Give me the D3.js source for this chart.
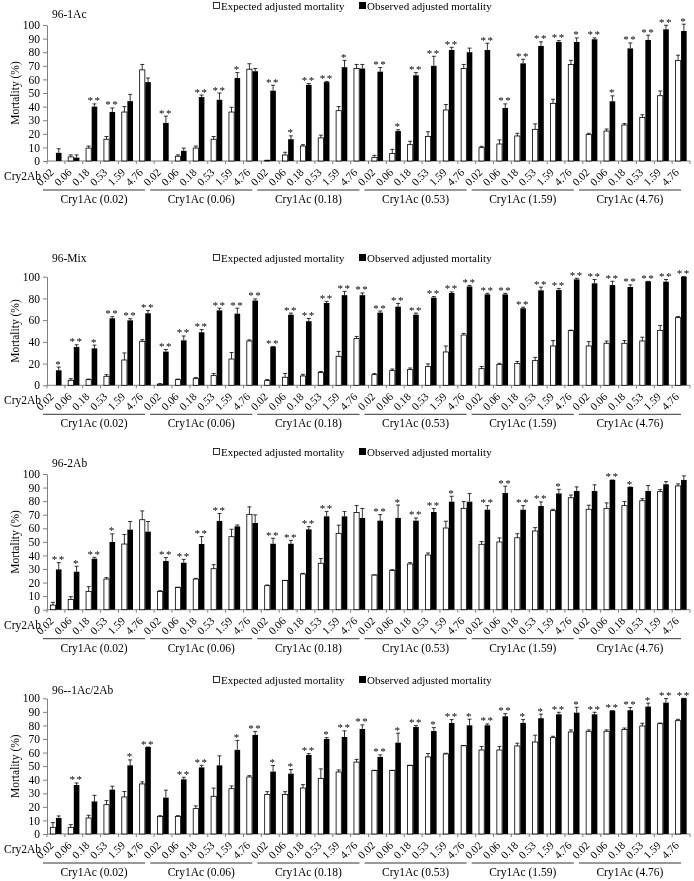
<!DOCTYPE html>
<html><head><meta charset="utf-8">
<script src="https://cdn.jsdelivr.net/npm/d3@7"></script>
<style>body{margin:0;background:#fff}svg{display:block;filter:grayscale(1)}text{font-family:"Liberation Serif",serif;fill:#000}</style>
</head><body>
<svg id="c" width="694" height="881" font-family="Liberation Serif"></svg>
<script>
// ---- data ----
const cry1Ac = ["0.02","0.06","0.18","0.53","1.59","4.76"];
const cry2Ab = ["0.02","0.06","0.18","0.53","1.59","4.76"];
const seriesNames = ["Expected adjusted mortality","Observed adjusted mortality"];
const panelTitles = ["96-1Ac","96-Mix","96-2Ab","96--1Ac/2Ab"];
const yTicks1 = [0,10,20,30,40,50,60,70,80,90,100];
const yTicks2 = [0,20,40,60,80,100];

const p1Exp = [0,3,9.5,16,36,67, 0,3.5,9.5,16,36,67.5, 0.5,4.4,11,17,37,68, 2.7,5.6,12,18,37.5,68, 9.8,12.5,18.4,23.3,42.4,71, 19.4,22,26.5,32,48,73.8];
const p1ExpErr = [0,1.5,1.5,2,4,4, 0,1,1.5,2,3.5,4, 0,2,1,2,3,3, 1.5,3,2.5,3.5,4,3, 1,3,2,4,3,3, 1,1.5,1,2,3.5,4];
const p1Obs = [6,2.5,40,36,44,58, 28,7.5,47,45,61,66, 51.7,16,56,58,69,68, 65.7,22,63,70,81.6,80, 81.6,39,71.8,84.6,87.5,87.5, 89.5,43.9,82.8,89,96.8,95.6];
const p1ObsErr = [3,2,2,3,5,3, 5,2,1.5,5,4,2, 4,2.5,1,0.5,5,3, 3,1,2,7,2,3, 5,3,3,3,1,3, 1,4,4,3.5,3,5];
const p1Sig = ["","","**","**","","", "**","","**","**","*","", "**","*","**","**","*","", "**","*","**","**","**","", "**","**","**","**","**","*", "**","*","**","**","**","*"];

const p2Exp = [0,4.6,5.2,8.3,23.3,40.5, 1,5.2,6.1,8.9,24.2,40.8, 4.3,7.4,8.6,11.7,26.7,43, 9.8,13.5,14.4,17.2,30.7,46.3, 15.3,19.3,20,22.7,36.2,50.3, 36.2,38.7,38.7,40.8,50.6,62.3];
const p2ExpErr = [0,1.5,0.5,1.5,6.5,1.5, 0.5,0.5,1,2,6,1, 1,3.5,1.5,1,4.5,2, 1,1.5,1.5,2.5,5.5,1.5, 2,1,2,3,5,0.5, 4,2,2.5,3.5,4.5,1];
const p2Obs = [13.8,35.3,34,61.7,59.8,66.3, 31,41.4,48.8,69,66,78, 35.6,65,59,75.8,83,83, 66.9,72.4,65,80.7,85,91, 83.7,83.7,70.9,87.4,87.7,97.5, 93.9,92.3,90.5,95.7,95.4,100];
const p2ObsErr = [3,2,3,1.5,1.5,2.5, 2,4,2.5,2,5,1.5, 0,1.5,2.5,1.5,3.5,2, 1.5,3,1.5,1,1,1, 1,1,1,3,1.5,1, 3.5,3.5,2,0,2,0];
const p2Sig = ["*","**","*","**","**","**", "**","**","**","**","**","**", "**","**","**","**","**","**", "**","**","**","**","**","**", "**","**","**","**","**","**", "**","**","**","**","**","**"];

const p3Exp = [3.4,7.6,13.5,22.6,48.4,66.3, 13.5,16.5,22.6,30.2,53.8,70.3, 17.7,21.6,26.3,34.2,56.3,71.7, 25.6,29,33.7,40.3,60.2,74.7, 48.2,49.9,53,58,73,82.5, 74,74.7,76.7,80.3,87,91.2];
const p3ExpErr = [2,2,3.5,1,7,6.5, 0.5,0,0.5,3,5.5,5.5, 0.5,0,0.5,3.5,6,5, 0,0.5,1,1.5,5,5, 2,3,3,2.5,1,2, 3,4,3,1.5,1.5,1.5];
const p3Obs = [29.7,28,37.6,49.9,59,57.5, 35.9,34.6,48.4,65.4,61.4,63.9, 48.6,48.6,59.2,68.8,68.8,67.6, 65.6,67.6,65.6,72,79.6,79.6, 73.7,86,73.7,76.4,85.7,87.5, 87.5,95.6,90.4,87.5,92.4,95.6];
const p3ObsErr = [5,4,1,6,6,7.5, 2.5,2.5,5.5,5.5,1,6, 4,2.5,2,3.5,3.5,7, 4.5,9.5,2,2.5,4,6, 3,5,3,3,3,3, 4.5,0,0,4,2,3];
const p3Sig = ["**","*","**","*","","", "**","**","**","**","","", "**","**","**","**","","", "**","*","**","**","*","", "**","**","**","**","*","", "","**","*","","",""];

const p4Exp = [4.9,4.9,11.8,21.6,27.3,36.9, 13,13,18.7,27.8,33.4,42, 29.2,29.2,33.9,41,45.7,53, 46.9,46.9,50.6,56.8,59,65.1, 61.9,61.9,64.9,67.8,71,75.2, 75.7,75.7,77.1,79.6,81.3,83.5];
const p4ExpErr = [3.5,2,2,3,4,1.5, 0.5,0.5,2,6,2,1, 2,2,2.5,7,1.5,2, 0,0,0,2.5,0.5,0, 2.5,2.5,2,5,1,1.5, 1,1,1,2,0.5,1];
const p4Obs = [11.8,36.1,24,32.7,50.6,64.1, 26.8,40.3,49.1,50.6,62,73, 46,44.5,58.2,70,71.5,77.4, 56.8,67.3,78.9,75.9,81.8,80.1, 80.1,86.7,81.8,85.3,88.2,89.4, 88.2,90.9,91.2,93.9,96.8,100];
const p4ObsErr = [1.5,1.5,4.5,2.5,4,0, 5.5,1.5,1.5,7,7,2.5, 4.5,3,1,1,4.5,3, 1.5,7,1,2.5,2.5,4.5, 1,2,2.5,3,1.5,4, 1.5,0,2,2.5,3,0];
const p4Sig = ["","**","","","*","**", "","**","**","","*","**", "*","*","**","*","**","**", "**","*","**","*","**","*", "**","**","*","*","**","*", "**","**","**","*","**","**"];

// ---- layout ----
const panels = [
  {title:panelTitles[0], top:25, base:161, ticks:yTicks1, titleY:18, legY:10, exp:p1Exp, expErr:p1ExpErr, obs:p1Obs, obsErr:p1ObsErr, sig:p1Sig},
  {title:panelTitles[1], top:276.7, base:385.3, ticks:yTicks2, titleY:262, legY:262, exp:p2Exp, expErr:p2ExpErr, obs:p2Obs, obsErr:p2ObsErr, sig:p2Sig},
  {title:panelTitles[2], top:474, base:609.7, ticks:yTicks1, titleY:467, legY:456, exp:p3Exp, expErr:p3ExpErr, obs:p3Obs, obsErr:p3ObsErr, sig:p3Sig},
  {title:panelTitles[3], top:698.3, base:834, ticks:yTicks1, titleY:694, legY:684, exp:p4Exp, expErr:p4ExpErr, obs:p4Obs, obsErr:p4ObsErr, sig:p4Sig}
];

const FONT = "Liberation Serif";
const svg = d3.select("#c");
const cats = [];
cry1Ac.forEach(a => cry2Ab.forEach(b => cats.push(a + "|" + b)));
const x = d3.scaleBand().domain(cats).range([47, 690]).padding(0);
const bw = x.bandwidth();
const barW = 5.6;
const axisCol = "#7f7f7f";

panels.forEach(p => {
  const g = svg.append("g").attr("font-family", FONT);
  const y = d3.scaleLinear().domain([0, 100]).range([p.base, p.top]);

  // y axis
  const ya = g.append("g").attr("transform", "translate(47,0)")
    .call(d3.axisLeft(y).tickValues(p.ticks).tickSize(4).tickSizeOuter(0).tickPadding(3));
  ya.attr("font-family", FONT);
  ya.select(".domain").attr("stroke", axisCol);
  ya.selectAll(".tick line").attr("stroke", axisCol);
  ya.selectAll(".tick text").attr("font-family", FONT).attr("font-size", 11.5).attr("fill", "#000");

  // x axis line and ticks at boundaries
  g.append("line").attr("x1", 47).attr("x2", 690).attr("y1", p.base).attr("y2", p.base).attr("stroke", axisCol);
  g.selectAll(".xt").data(d3.range(cats.length + 1)).join("line")
    .attr("x1", i => 47 + i * bw).attr("x2", i => 47 + i * bw)
    .attr("y1", p.base).attr("y2", p.base + 3).attr("stroke", axisCol);

  // x labels
  g.selectAll(".xl").data(cats).join("text")
    .attr("transform", d => `translate(${x(d) + bw / 2 - 1.5},${p.base + 12}) rotate(-45)`)
    .attr("text-anchor", "end").attr("font-family", FONT).attr("font-size", 11).text(d => d.split("|")[1]);
  g.append("text").attr("x", 4).attr("y", p.base + 19).attr("font-family", FONT).attr("font-size", 11.5).text("Cry2Ab");

  // group lines and labels
  cry1Ac.forEach((a, gi) => {
    const x0 = x(a + "|" + cry2Ab[0]) - 4;
    const x1 = x(a + "|" + cry2Ab[5]) + bw - 9;
    g.append("line").attr("x1", x0).attr("x2", x1).attr("y1", p.base + 29).attr("y2", p.base + 29).attr("stroke", "#000").attr("stroke-width", 0.8);
    g.append("text").attr("x", (x0 + x1) / 2).attr("y", p.base + 42).attr("text-anchor", "middle")
      .attr("font-family", FONT).attr("font-size", 11.5).text(`Cry1Ac (${a})`);
  });

  // y label
  g.append("text").attr("transform", `translate(19,${(p.top + p.base) / 2}) rotate(-90)`)
    .attr("text-anchor", "middle").attr("font-family", FONT).attr("font-size", 11.5).text("Mortality (%)");

  // title
  g.append("text").attr("x", 52).attr("y", p.titleY).attr("font-family", FONT).attr("font-size", 11.5).text(p.title);

  // legend
  g.append("rect").attr("x", 213.5).attr("y", p.legY - 7.5).attr("width", 6).attr("height", 6).attr("fill", "#fff").attr("stroke", "#000").attr("stroke-width", 0.8);
  g.append("text").attr("x", 221).attr("y", p.legY).attr("font-family", FONT).attr("font-size", 11).text(seriesNames[0]);
  g.append("rect").attr("x", 359).attr("y", p.legY - 8).attr("width", 7).attr("height", 7).attr("fill", "#000");
  g.append("text").attr("x", 367).attr("y", p.legY).attr("font-family", FONT).attr("font-size", 11).text(seriesNames[1]);

  const rows = cats.map((c, i) => ({c, e: p.exp[i], ee: p.expErr[i], o: p.obs[i], oe: p.obsErr[i], s: p.sig[i]}));

  // expected bars
  g.selectAll(".eb").data(rows).join("rect")
    .attr("x", d => x(d.c) + bw / 2 - barW).attr("width", barW - 0.4)
    .attr("y", d => y(d.e)).attr("height", d => y(0) - y(d.e))
    .attr("fill", "#fff").attr("stroke", "#000").attr("stroke-width", 0.8);
  // observed bars
  g.selectAll(".ob").data(rows).join("rect")
    .attr("x", d => x(d.c) + bw / 2).attr("width", barW)
    .attr("y", d => y(d.o)).attr("height", d => y(0) - y(d.o))
    .attr("fill", "#000");

  // error bars
  const err = (sel, cx, v, e) => {
    sel.append("line").attr("x1", cx).attr("x2", cx).attr("y1", y(v)).attr("y2", y(v + e)).attr("stroke", "#000").attr("stroke-width", 0.8);
    sel.append("line").attr("x1", cx - 2).attr("x2", cx + 2).attr("y1", y(v + e)).attr("y2", y(v + e)).attr("stroke", "#000").attr("stroke-width", 0.8);
  };
  rows.forEach(d => {
    if (d.e > 0) err(g, x(d.c) + bw / 2 - barW / 2 - 0.2, d.e, d.ee);
    err(g, x(d.c) + bw / 2 + barW / 2, d.o, d.oe);
  });

  // significance stars
  g.append("g").selectAll("text").data(rows.filter(d => d.s)).join("text")
    .attr("x", d => x(d.c) + bw / 2 + barW / 2)
    .attr("y", d => y(d.o + d.oe) + 0.5)
    .attr("text-anchor", "middle").attr("font-family", FONT).attr("font-size", 11).attr("fill", "#000")
    .attr("letter-spacing", 1.5)
    .text(d => d.s);
});
</script>
</body></html>
